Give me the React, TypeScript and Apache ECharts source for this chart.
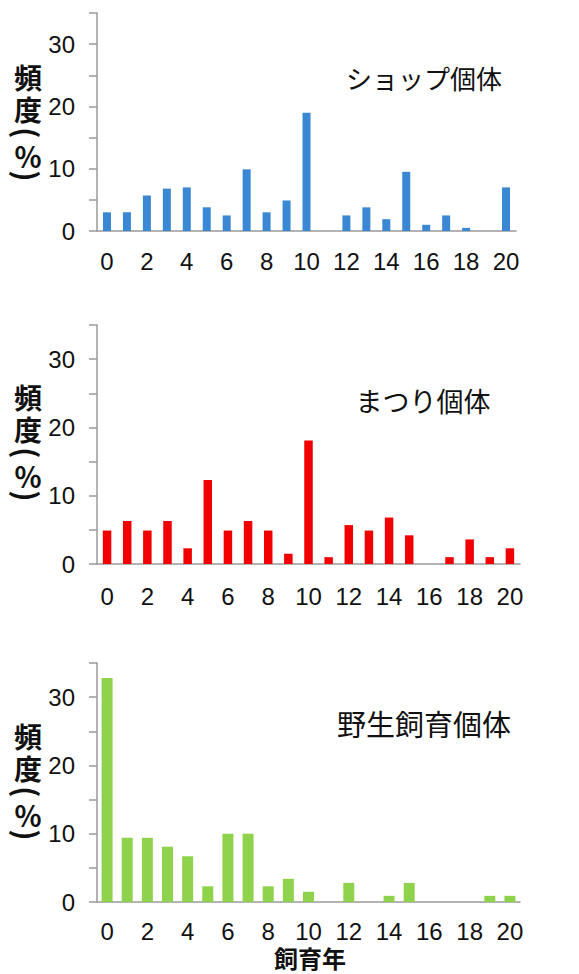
import React, { useEffect, useRef } from "react";
import * as echarts from "echarts";

const years = ["0","1","2","3","4","5","6","7","8","9","10","11","12","13","14","15","16","17","18","19","20"];
const shopValues = [3.0, 3.0, 5.7, 6.8, 7.0, 3.8, 2.5, 9.9, 3.0, 4.9, 19.0, 0, 2.5, 3.8, 1.9, 9.5, 1.0, 2.5, 0.5, 0, 7.0];
const festivalValues = [4.9, 6.3, 4.9, 6.3, 2.3, 12.3, 4.9, 6.3, 4.9, 1.5, 18.1, 1.0, 5.7, 4.9, 6.8, 4.2, 0, 1.0, 3.6, 1.0, 2.3];
const wildValues = [32.8, 9.4, 9.4, 8.1, 6.7, 2.3, 10.0, 10.0, 2.3, 3.4, 1.5, 0, 2.8, 0, 0.9, 2.8, 0, 0, 0, 0.9, 0.9];
const yMax = 35;
const yStep = 5;
const yLabelStep = 10;
const panelTitles = ["ショップ個体", "まつり個体", "野生飼育個体"];
const yNameGlyphs = ["頻", "度", "(", "％", ")"];
const xAxisName = "飼育年";

const panelSeries = [shopValues, festivalValues, wildValues];
const panelColors = ["#3a87d3", "#f20000", "#8fd24c"];
const panelBarWidths = [8, 8.5, 11];
const grids = [
  { left: 97, top: 13, width: 419, height: 218 },
  { left: 97, top: 325, width: 423, height: 239 },
  { left: 97, top: 663, width: 423, height: 239 },
];
const xLabelMargins = [18, 20, 17];
const titlePos = [
  { x: 424, y: 77, size: 26 },
  { x: 423, y: 400, size: 27 },
  { x: 424, y: 723, size: 29 },
];
const yNameOffsets = [0, 320, 659];
const yNameRel = [77, 109, 133, 156, 176];

const numFont = "'Liberation Sans', Arial, sans-serif";
const jpFont = "'Noto Sans CJK JP', sans-serif";

export default function App() {
  const ref = useRef<HTMLDivElement>(null);
  useEffect(() => {
    if (!ref.current) return;
    const chart = echarts.init(ref.current, undefined, { renderer: "svg" });
    const graphic: any[] = [];
    panelTitles.forEach((t, i) => {
      graphic.push({
        type: "text",
        x: titlePos[i].x,
        y: titlePos[i].y,
        style: {
          text: t,
          font: `normal ${titlePos[i].size}px ${jpFont}`,
          fill: "#111",
          textAlign: "center",
          textVerticalAlign: "middle",
        },
      });
      yNameGlyphs.forEach((g, k) => {
        const isParen = g === "(" || g === ")";
        const txt = {
          type: "text",
          x: 0,
          y: 0,
          style: {
            text: g,
            font: `bold ${isParen ? 30 : 28}px ${jpFont}`,
            fill: "#111",
            textAlign: "center",
            textVerticalAlign: "middle",
          },
        };
        graphic.push({
          type: "group",
          x: 28,
          y: yNameOffsets[i] + yNameRel[k],
          rotation: isParen ? -Math.PI / 2 : 0,
          children: [txt],
        });
      });
    });
    graphic.push({
      type: "text",
      x: 310,
      y: 957,
      style: {
        text: xAxisName,
        font: `bold 24px ${jpFont}`,
        fill: "#111",
        textAlign: "center",
        textVerticalAlign: "middle",
      },
    });

    const option: any = {
      animation: false,
      backgroundColor: "#ffffff",
      grid: grids.map((g) => ({ ...g, containLabel: false })),
      xAxis: grids.map((_, i) => ({
        type: "category",
        gridIndex: i,
        data: years,
        boundaryGap: true,
        axisLine: { show: true, lineStyle: { color: "#9a9a9a", width: 1.5 } },
        axisTick: { show: false },
        axisLabel: {
          interval: 1,
          margin: xLabelMargins[i],
          fontSize: 24,
          fontFamily: numFont,
          color: "#111",
        },
        splitLine: { show: false },
      })),
      yAxis: grids.map((_, i) => ({
        type: "value",
        gridIndex: i,
        min: 0,
        max: yMax,
        interval: yStep,
        axisLine: { show: true, lineStyle: { color: "#9a9a9a", width: 1.5 } },
        axisTick: { show: true, length: 8, lineStyle: { color: "#9a9a9a", width: 1.5 } },
        axisLabel: {
          margin: 22,
          fontSize: 24,
          fontFamily: numFont,
          color: "#111",
          formatter: (v: number) => (v % yLabelStep === 0 ? String(v) : ""),
        },
        splitLine: { show: false },
      })),
      series: panelSeries.map((vals, i) => ({
        type: "bar",
        xAxisIndex: i,
        yAxisIndex: i,
        data: vals,
        barWidth: panelBarWidths[i],
        itemStyle: { color: panelColors[i] },
      })),
      graphic,
    };
    chart.setOption(option);
    return () => chart.dispose();
  }, []);
  return (
    <div
      ref={ref}
      style={{ position: "absolute", left: 0, top: 0, width: 579, height: 974 }}
    />
  );
}
